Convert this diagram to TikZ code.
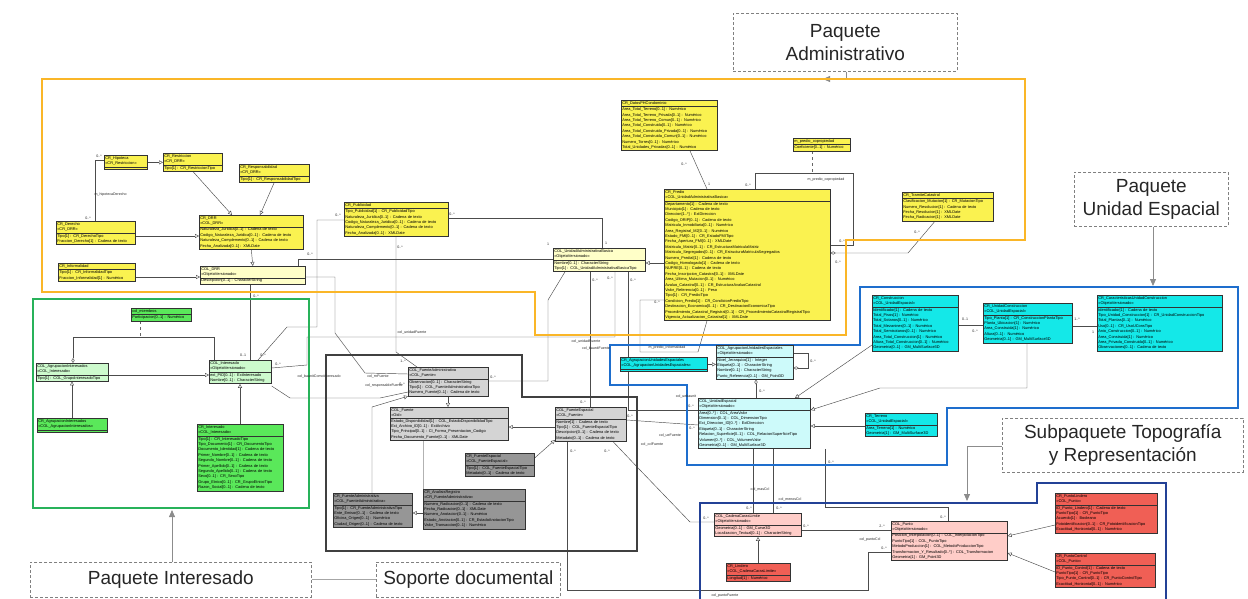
\documentclass[tikz,border=0pt]{standalone}
\usepackage{fontspec}
\setmainfont{Liberation Sans}
\usetikzlibrary{arrows.meta,shapes.multipart}
\pgfdeclarelayer{bg}
\pgfsetlayers{bg,main}

\definecolor{admY}{RGB}{250,242,80}
\definecolor{admL}{RGB}{255,255,200}
\definecolor{intG}{RGB}{90,232,90}
\definecolor{intL}{RGB}{205,250,205}
\definecolor{srcG}{RGB}{150,150,150}
\definecolor{srcL}{RGB}{212,212,212}
\definecolor{ueC}{RGB}{20,232,232}
\definecolor{ueL}{RGB}{205,250,250}
\definecolor{topR}{RGB}{240,95,85}
\definecolor{topL}{RGB}{255,205,200}
\definecolor{pkgOrange}{RGB}{250,182,40}
\definecolor{pkgBlue}{RGB}{30,110,205}
\definecolor{pkgNavy}{RGB}{35,65,150}
\definecolor{pkgGreen}{RGB}{40,178,90}

\begin{document}
\begin{tikzpicture}[
    x=1pt, y=-1pt,
    cls/.style={
        rectangle split,
        rectangle split parts=2,
        draw=black!80,
        line width=0.45pt,
        anchor=north west,
        align=left,
        inner sep=1.1pt,
        font=\fontsize{3.9}{5.4}\selectfont
    },
    crY/.style={cls, fill=admY},
    colY/.style={cls, fill=admL},
    crG/.style={cls, fill=intG},
    colG/.style={cls, fill=intL},
    crS/.style={cls, fill=srcG},
    colS/.style={cls, fill=srcL},
    crC/.style={cls, fill=ueC},
    colC/.style={cls, fill=ueL},
    crR/.style={cls, fill=topR},
    colR/.style={cls, fill=topL},
    pkg/.style={line width=2.3pt, line join=miter},
    note/.style={
        draw=black!50,
        dash pattern=on 3pt off 2pt,
        line width=0.6pt,
        anchor=north west,
        align=center,
        text=black!85,
        font=\fontsize{19}{23}\selectfont
    },
    assoc/.style={draw=black!70, line width=0.45pt},
    gen/.style={assoc, -{Triangle[open, length=4pt, width=4pt]}},
    agg/.style={assoc, {Diamond[open, length=5pt, width=3.2pt]}-},
    link/.style={draw=black!60, line width=0.45pt, dashed},
    pointer/.style={draw=black!45, line width=0.8pt, -{Triangle[length=7pt, width=6pt]}},
    mult/.style={font=\fontsize{3.6}{4}\selectfont, inner sep=0.3pt, text=black!85}
]
\useasboundingbox (0,0) rectangle (1248,599);

% package frames
\draw[pkg, pkgOrange] (42,79) -- (1025,79) -- (1025,240) -- (846,240) -- (846,335) -- (535,335) -- (535,292) -- (42,292) -- cycle;
\draw[pkg, pkgBlue] (860,287) -- (1238,287) -- (1238,408) -- (947,408) -- (947,465) -- (687,465) -- (687,385) -- (610,385) -- (610,345) -- (860,345) -- cycle;
\draw[pkg, pkgNavy] (700,602) -- (700,503) -- (1037,503) -- (1037,483) -- (1166,483) -- (1166,602);
\draw[pkg, pkgGreen] (33,299) rectangle (309,508);
\draw[pkg, black!75] (326,355) -- (522,355) -- (522,397) -- (637,397) -- (637,551) -- (326,551) -- cycle;

% package notes
\node[note, minimum width=224pt, minimum height=58pt] (admnote) at (733,13) {Paquete\\Administrativo};
\node[note, minimum width=154pt, minimum height=54pt] (uenote) at (1074,172) {Paquete\\Unidad Espacial};
\node[note, minimum width=241pt, minimum height=54pt] (topnote) at (1002,418) {Subpaquete Topografía\\y Representación};
\node[note, minimum width=281pt, minimum height=35pt] (intnote) at (30,562) {Paquete Interesado};
\node[note, minimum width=184pt, minimum height=35pt] (srcnote) at (376,562) {Soporte documental};

% administrative classes
\node[crY, text width=41pt] (hipoteca) at (104,155) {CR\_Hipoteca\\<<CR\_Restriccion>> \nodepart{two}};
\node[crY, text width=57pt] (restriccion) at (163,153) {CR\_Restriccion\\<<CR\_DRR>> \nodepart{two} Tipo[1] : CR\_RestriccionTipo};
\node[crY, text width=68pt] (responsabilidad) at (239,164) {CR\_Responsabilidad\\<<CR\_DRR>> \nodepart{two} Tipo[1] : CR\_ResponsabilidadTipo};
\node[crY, text width=77pt] (derecho) at (56,221) {CR\_Derecho\\<<CR\_DRR>> \nodepart{two} Tipo[1] : CR\_DerechoTipo\\Fraccion\_Derecho[1] : Cadena de texto};
\node[crY, text width=102pt] (crdrr) at (199,215) {CR\_DRR\\<<COL\_DRR>> \nodepart{two} Naturaleza\_Juridica[0..1] : Cadena de texto\\Codigo\_Naturaleza\_Juridica[0..1] : Cadena de texto\\Naturaleza\_Complemento[0..1] : Cadena de texto\\Fecha\_Analizada[0..1] : XMLDate};
\node[crY, text width=75pt] (informalidad) at (58,263) {CR\_Informalidad \nodepart{two} Tipo[1] : CR\_InformalidadTipo\\Fraccion\_Informalidad[1] : Numérico};
\node[colY, text width=103pt] (coldrr) at (200,266) {COL\_DRR\\<<ObjetoVersionado>> \nodepart{two} Descripcion[0..1] : CharacterString};
\node[crY, text width=102pt] (publicidad) at (344,202) {CR\_Publicidad \nodepart{two} Tipo\_Publicidad[1] : CR\_PublicidadTipo\\Naturaleza\_Juridica[0..1] : Cadena de texto\\Codigo\_Naturaleza\_Juridica[0..1] : Cadena de texto\\Naturaleza\_Complemento[0..1] : Cadena de texto\\Fecha\_Analizada[0..1] : XMLDate};
\node[colY, text width=90pt] (colbaunit) at (553,248) {COL\_UnidadAdministrativaBasica\\<<ObjetoVersionado>> \nodepart{two} Nombre[0..1] : CharacterString\\Tipo[1] : COL\_UnidadAdministrativaBasicaTipo};
\node[crY, text width=94pt] (datosph) at (621,100) {CR\_DatosPHCondominio \nodepart{two} Area\_Total\_Terreno[0..1] : Numérico\\Area\_Total\_Terreno\_Privada[0..1] : Numérico\\Area\_Total\_Terreno\_Comun[0..1] : Numérico\\Area\_Total\_Construida[0..1] : Numérico\\Area\_Total\_Construida\_Privada[0..1] : Numérico\\Area\_Total\_Construida\_Comun[0..1] : Numérico\\Numero\_Torres[0..1] : Numérico\\Total\_Unidades\_Privadas[0..1] : Numérico};
\node[crY, text width=55pt] (copropiedad) at (793,138) {m\_predio\_copropiedad \nodepart{two} Coeficiente[0..1] : Numérico};
\node[crY, text width=164pt] (predio) at (664,189) {CR\_Predio\\<<COL\_UnidadAdministrativaBasica>> \nodepart{two} Departamento[1] : Cadena de texto\\Municipio[1] : Cadena de texto\\Direccion[1..*] : ExtDireccion\\Codigo\_ORIP[0..1] : Cadena de texto\\Matricula\_Inmobiliaria[0..1] : Numérico\\Area\_Registral\_M2[0..1] : Numérico\\Estado\_FMI[0..1] : CR\_EstadoFMITipo\\Fecha\_Apertura\_FMI[0..1] : XMLDate\\Matricula\_Matriz[0..1] : CR\_EstructuraMatriculaMatriz\\Matricula\_Segregados[0..1] : CR\_EstructuraMatriculaSegregados\\Numero\_Predial[1] : Cadena de texto\\Codigo\_Homologado[1] : Cadena de texto\\NUPRE[0..1] : Cadena de texto\\Fecha\_Inscripcion\_Catastral[0..1] : XMLDate\\Area\_Ultima\_Mutacion[0..1] : Numérico\\Avaluo\_Catastral[0..1] : CR\_EstructuraAvaluoCatastral\\Valor\_Referencia[0..1] : Peso\\Tipo[1] : CR\_PredioTipo\\Condicion\_Predio[1] : CR\_CondicionPredioTipo\\Destinacion\_Economica[0..1] : CR\_DestinacionEconomicaTipo\\Procedimiento\_Catastral\_Registral[0..1] : CR\_ProcedimientoCatastralRegistralTipo\\Vigencia\_Actualizacion\_Catastral[1] : XMLDate};
\node[crY, text width=89pt] (tramite) at (902,192) {CR\_TramiteCatastral \nodepart{two} Clasificacion\_Mutacion[1] : CR\_MutacionTipo\\Numero\_Resolucion[1] : Cadena de texto\\Fecha\_Resolucion[1] : XMLDate\\Fecha\_Radicacion[1] : XMLDate};

% party classes
\node[crG, text width=58pt] (miembros) at (131,308) {col\_miembros \nodepart{two} Participacion[0..1] : Numérico};
\node[colG, text width=70pt] (colagrupint) at (36,363) {COL\_AgrupacionInteresados\\<<COL\_Interesado>> \nodepart{two} Tipo[1] : COL\_GrupoInteresadoTipo};
\node[colG, text width=60pt] (colint) at (209,360) {COL\_Interesado\\<<ObjetoVersionado>> \nodepart{two} ext\_PID[0..1] : ExtInteresado\\Nombre[0..1] : CharacterString};
\node[crG, text width=68pt] (cragrupint) at (37,418) {CR\_AgrupacionInteresados\\<<COL\_AgrupacionInteresados>> \nodepart{two}};
\node[crG, text width=84pt] (crint) at (197,424) {CR\_Interesado\\<<COL\_Interesado>> \nodepart{two} Tipo[1] : CR\_InteresadoTipo\\Tipo\_Documento[1] : CR\_DocumentoTipo\\Documento\_Identidad[1] : Cadena de texto\\Primer\_Nombre[0..1] : Cadena de texto\\Segundo\_Nombre[0..1] : Cadena de texto\\Primer\_Apellido[0..1] : Cadena de texto\\Segundo\_Apellido[0..1] : Cadena de texto\\Sexo[0..1] : CR\_SexoTipo\\Grupo\_Etnico[0..1] : CR\_GrupoEtnicoTipo\\Razon\_Social[0..1] : Cadena de texto};

% source classes
\node[colS, text width=78pt] (colfa) at (408,367) {COL\_FuenteAdministrativa\\<<COL\_Fuente>> \nodepart{two} Observacion[0..1] : CharacterString\\Tipo[1] : COL\_FuenteAdministrativaTipo\\Numero\_Fuente[0..1] : Cadena de texto};
\node[colS, text width=116pt] (colfuente) at (390,407) {COL\_Fuente\\<<Oid>> \nodepart{two} Estado\_Disponibilidad[1] : COL\_EstadoDisponibilidadTipo\\Ext\_Archivo\_ID[0..1] : ExtArchivo\\Tipo\_Principal[0..1] : CI\_Forma\_Presentacion\_Codigo\\Fecha\_Documento\_Fuente[0..1] : XMLDate};
\node[colS, text width=69pt] (cfe) at (555,407) {COL\_FuenteEspacial\\<<COL\_Fuente>> \nodepart{two} Nombre[1] : Cadena de texto\\Tipo[1] : COL\_FuenteEspacialTipo\\Descripcion[0..1] : Cadena de texto\\Metadato[0..1] : Cadena de texto};
\node[crS, text width=67pt] (crfe) at (465,453) {CR\_FuenteEspacial\\<<COL\_FuenteEspacial>> \nodepart{two} Tipo[1] : COL\_FuenteEspacialTipo\\Metadato[0..1] : Cadena de texto};
\node[crS, text width=77pt] (crfa) at (333,493) {CR\_FuenteAdministrativa\\<<COL\_FuenteAdministrativa>> \nodepart{two} Tipo[1] : CR\_FuenteAdministrativaTipo\\Ente\_Emisor[0..1] : Cadena de texto\\Oficina\_Origen[0..1] : Numérico\\Ciudad\_Origen[0..1] : Cadena de texto};
\node[crS, text width=100pt] (analisis) at (423,489) {CR\_AnalisisRegistro\\<<CR\_FuenteAdministrativa>> \nodepart{two} Numero\_Radicacion[0..1] : Cadena de texto\\Fecha\_Radicacion[0..1] : XMLDate\\Numero\_Anotacion[0..1] : Numérico\\Estado\_Anotacion[0..1] : CR\_EstadoAnotacionTipo\\Valor\_Transaccion[0..1] : Numérico};

% spatial unit classes
\node[crC, text width=85pt] (cragrupue) at (620,357) {CR\_AgrupacionUnidadesEspaciales\\<<COL\_AgrupacionUnidadesEspaciales>> \nodepart{two}};
\node[colC, text width=75pt] (colagrupue) at (716,345) {COL\_AgrupacionUnidadesEspaciales\\<<ObjetoVersionado>> \nodepart{two} Nivel\_Jerarquico[1] : Integer\\Etiqueta[0..1] : CharacterString\\Nombre[0..1] : CharacterString\\Punto\_Referencia[0..1] : GM\_Point3D};
\node[colC, text width=110pt] (colue) at (698,398) {COL\_UnidadEspacial\\<<ObjetoVersionado>> \nodepart{two} Area[0..*] : COL\_AreaValor\\Dimension[0..1] : COL\_DimensionTipo\\Ext\_Direccion\_ID[0..*] : ExtDireccion\\Etiqueta[0..1] : CharacterString\\Relacion\_Superficie[0..1] : COL\_RelacionSuperficieTipo\\Volumen[0..*] : COL\_VolumenValor\\Geometria[0..1] : GM\_MultiSurface3D};
\node[crC, text width=70pt] (terreno) at (865,413) {CR\_Terreno\\<<COL\_UnidadEspacial>> \nodepart{two} Area\_Terreno[1] : Numérico\\Geometria[1] : GM\_MultiSurface3D};
\node[crC, text width=84pt] (construccion) at (872,295) {CR\_Construccion\\<<COL\_UnidadEspacial>> \nodepart{two} Identificador[1] : Cadena de texto\\Total\_Pisos[1] : Numérico\\Total\_Sotanos[0..1] : Numérico\\Total\_Mezanines[0..1] : Numérico\\Total\_Semisotanos[0..1] : Numérico\\Area\_Total\_Construccion[1] : Numérico\\Altura\_Total\_Construccion[0..1] : Numérico\\Geometria[0..1] : GM\_MultiSurface3D};
\node[crC, text width=87pt] (unidadcons) at (983,303) {CR\_UnidadConstruccion\\<<COL\_UnidadEspacial>> \nodepart{two} Tipo\_Planta[1] : CR\_ConstruccionPlantaTipo\\Planta\_Ubicacion[1] : Numérico\\Area\_Construida[1] : Numérico\\Altura[0..1] : Numérico\\Geometria[0..1] : GM\_MultiSurface3D};
\node[crC, text width=123pt] (caract) at (1097,295) {CR\_CaracteristicasUnidadConstruccion\\<<ObjetoVersionado>> \nodepart{two} Identificador[1] : Cadena de texto\\Tipo\_Unidad\_Construccion[1] : CR\_UnidadConstruccionTipo\\Total\_Plantas[0..1] : Numérico\\Uso[0..1] : CR\_UsoUConsTipo\\Anio\_Construccion[0..1] : Numérico\\Area\_Construida[1] : Numérico\\Area\_Privada\_Construida[0..1] : Numérico\\Observaciones[0..1] : Cadena de texto};

% topography classes
\node[colR, text width=85pt] (colccl) at (714,513) {COL\_CadenaCarasLimite\\<<ObjetoVersionado>> \nodepart{two} Geometria[0..1] : GM\_Curve3D\\Localizacion\_Textual[0..1] : CharacterString};
\node[crR, text width=62pt] (lindero) at (726,563) {CR\_Lindero\\<<COL\_CadenaCarasLimite>> \nodepart{two} Longitud[1] : Numérico};
\node[colR, text width=114pt] (colpunto) at (891,521) {COL\_Punto\\<<ObjetoVersionado>> \nodepart{two} Posicion\_Interpolacion[0..1] : COL\_InterpolacionTipo\\PuntoTipo[1] : COL\_PuntoTipo\\MetodoProduccion[1] : COL\_MetodoProduccionTipo\\Transformacion\_Y\_Resultado[0..*] : COL\_Transformacion\\Geometria[1] : GM\_Point3D};
\node[crR, text width=100pt] (puntolindero) at (1055,493) {CR\_PuntoLindero\\<<COL\_Punto>> \nodepart{two} ID\_Punto\_Lindero[1] : Cadena de texto\\PuntoTipo[1] : CR\_PuntoTipo\\Acuerdo[1] : Booleano\\Fotoidentificacion[0..1] : CR\_FotoidentificacionTipo\\Exactitud\_Horizontal[0..1] : Numérico};
\node[crR, text width=98pt] (puntocontrol) at (1055,553) {CR\_PuntoControl\\<<COL\_Punto>> \nodepart{two} ID\_Punto\_Control[1] : Cadena de texto\\PuntoTipo[1] : CR\_PuntoTipo\\Tipo\_Punto\_Control[0..1] : CR\_PuntoControlTipo\\Exactitud\_Horizontal[0..1] : Numérico};

% multiplicities and role names
\node[mult] (m1) at (99,156) {0..*};
\node[mult] (m2) at (88,218) {0..*};
\node[mult, anchor=west] (m3) at (94,195) {m\_hipotecaDerecho};
\node[mult] (m4) at (310,254) {0..*};
\node[mult] (m5) at (548,244) {1};
\node[mult] (m6) at (338,215) {0..*};
\node[mult] (m7) at (452,214) {0..*};
\node[mult] (m8) at (606,243) {1};
\node[mult] (m9) at (400,247) {0..*};
\node[mult] (m10) at (403,361) {1..*};
\node[mult] (m11) at (256,296) {0..*};
\node[mult] (m12) at (243,355) {0..1};
\node[mult] (m13) at (263,355) {0..*};
\node[mult] (m14) at (684,164) {0..*};
\node[mult] (m15) at (709,184) {1};
\node[mult] (m16) at (748,185) {0..*};
\node[mult] (m17) at (842,241) {0..*};
\node[mult] (m18) at (826,180) {m\_predio\_copropiedad};
\node[mult] (m19) at (917,232) {0..*};
\node[mult] (m20) at (838,262) {0..*};
\node[mult] (m21) at (657,302) {0..*};
\node[mult] (m22) at (667,348) {m\_predio\_informalidad};
\node[mult] (m23) at (610,278) {0..*};
\node[mult] (m24) at (278,364) {0..*};
\node[mult, anchor=west] (m25) at (297,377) {col\_baunitComoInteresado};
\node[mult] (m26) at (378,377) {col\_rrrFuente};
\node[mult] (m27) at (384,386) {col\_responsableFuente};
\node[mult] (m28) at (493,377) {0..*};
\node[mult] (m29) at (412,333) {col\_unidadFuente};
\node[mult] (m30) at (586,342) {col\_unidadFuente};
\node[mult] (m31) at (596,349) {col\_baunitFuente};
\node[mult] (m32) at (595,280) {0..*};
\node[mult] (m33) at (583,402) {0..*};
\node[mult] (m34) at (633,280) {0..*};
\node[mult] (m35) at (691,406) {0..*};
\node[mult] (m36) at (686,397) {col\_uebaunit};
\node[mult] (m37) at (630,416) {0..*};
\node[mult] (m38) at (692,428) {0..*};
\node[mult] (m39) at (670,436) {col\_ueFuente};
\node[mult] (m40) at (607,451) {0..*};
\node[mult] (m41) at (652,445) {col\_cclFuente};
\node[mult] (m42) at (706,518) {0..*};
\node[mult] (m43) at (573,451) {0..*};
\node[mult] (m44) at (884,548) {0..*};
\node[mult] (m45) at (725,596) {col\_puntoFuente};
\node[mult] (m46) at (870,540) {col\_puntoCcl};
\node[mult] (m47) at (813,361) {0..*};
\node[mult] (m48) at (762,391) {0..*};
\node[mult] (m49) at (965,319) {0..1};
\node[mult] (m50) at (975,331) {0..*};
\node[mult] (m51) at (1077,319) {1..*};
\node[mult] (m52) at (1093,332) {1};
\node[mult] (m53) at (749,508) {0..*};
\node[mult] (m54) at (779,508) {0..*};
\node[mult] (m55) at (760,490) {col\_masCcl};
\node[mult] (m56) at (790,500) {col\_menosCcl};
\node[mult] (m57) at (831,462) {0..*};
\node[mult] (m58) at (943,517) {0..*};
\node[mult] (m59) at (806,526) {0..*};
\node[mult] (m60) at (882,526) {2..*};
\node[mult] (m61) at (402,384) {0..*};

\begin{pgfonlayer}{bg}
% administrative
\draw[gen] (hipoteca.east) -- (restriccion.west |- hipoteca.east);
\draw[gen] (restriccion.south) -- (crdrr.north -| 232,0);
\draw[gen] (responsabilidad.south) -- (crdrr.north -| 260,0);
\draw[gen] (derecho.east |- 0,236) -- (crdrr.west |- 0,236);
\draw[assoc] (hipoteca.west |- 0,160) -- (95,160) -- (derecho.north -| 95,0);
\draw[gen] (crdrr.south) -- (coldrr.north);
\draw[gen] (informalidad.east |- 0,277) -- (coldrr.west |- 0,277);
\draw[assoc] (coldrr.north -| 298,0) |- (colbaunit.west |- 0,259);
\draw[assoc] (publicidad.west |- 0,220) -- (317,220) -- (317,327) -- (287,327) -- (colint.north -| 258,0);
\draw[assoc] (publicidad.east |- 0,218) -- (602,218) -- (colbaunit.north -| 602,0);
\draw[assoc] (publicidad.south -| 396,0) -- (396,352) -- (colfa.north -| 417,0);
\draw[assoc] (coldrr.south -| 250,0) -- (colint.north -| 250,0);
\draw[assoc] (datosph.south -| 690,0) -- (predio.north -| 707,0);
\draw[assoc] (predio.north -| 755,0) |- (853,173) |- (predio.east |- 0,245);
\draw[link] (copropiedad.south -| 812,0) -- (812,173);
\draw[agg] (predio.east |- 0,253) -- (908,253) -- (tramite.south -| 935,0);
\draw[gen] (predio.west |- 0,263) -- (colbaunit.east |- 0,263);
\draw[assoc] (predio.south -| 707,0) -- (698,352) -- (640,352) -- (640,300) -- (predio.west |- 0,300);
% party
\draw[agg] (colagrupint.north -| 73,0) |- (214,337) -- (colint.north -| 214,0);
\draw[link] (miembros.south -| 140,0) -- (140,337);
\draw[gen] (cragrupint.north -| 72,0) -- (colagrupint.south -| 72,0);
\draw[gen] (colagrupint.east |- 0,375) -- (colint.west |- 0,375);
\draw[gen] (crint.north -| 240,0) -- (colint.south -| 240,0);
% across packages
\draw[assoc] (colbaunit.south -| 615,0) -- (615,337) -- (307,337) -- (307,365) -- (colint.east |- 0,368);
\draw[assoc] (coldrr.east |- 0,277) -- (335,277) -- (335,333) -- (365,373) -- (colfa.west |- 0,374);
\draw[assoc] (colint.east |- 0,386) -- (290,398) -- (380,398) -- (colfa.west |- 0,392);
\draw[assoc] (colfa.east |- 0,381) -- (548,381) -- (548,300) -- (colbaunit.south -| 565,0);
\draw[assoc] (colbaunit.south -| 590,0) -- (cfe.north -| 590,0);
\draw[assoc] (colbaunit.south -| 628,0) -- (628,410) -- (colue.west |- 0,410);
\draw[assoc] (cfe.east |- 0,420) -- (colue.west |- 0,425);
\draw[assoc] (cfe.south -| 613,0) -- (640,470) -- (690,522) -- (colccl.west |- 0,522);
\draw[assoc] (cfe.south -| 567,0) -- (567,590) -- (868,590) -- (868,552) -- (colpunto.west |- 0,552);
% source
\draw[gen] (colfa.south -| 448,0) -- (colfuente.north -| 448,0);
\draw[gen] (cfe.west |- 0,427) -- (colfuente.east |- 0,427);
\draw[gen] (crfe.east |- 0,458) -- (cfe.west |- 0,440);
\draw[gen] (crfa.north -| 372,0) -- (372,407) -- (colfa.south west);
\draw[gen] (analisis.west |- 0,513) -- (crfa.east |- 0,513);
\draw[black!30, line width=0.45pt] (colfuente.south -| 423,0) -- (analisis.north -| 423,0);
% spatial unit
\draw[gen] (cragrupue.east) -- (colagrupue.west |- cragrupue.east);
\draw[agg] (colagrupue.east |- 0,368) -- (808,368) -- (808,353) -- (colagrupue.east |- 0,353);
\draw[agg] (colagrupue.south -| 756,0) -- (colue.north -| 756,0);
\draw[gen] (construccion.west |- 0,345) -- (colue.north -| 795,0);
\draw[gen] (unidadcons.south -| 1027,0) -- (1027,388) -- (880,388) -- (colue.east |- 0,410);
\draw[gen] (terreno.west |- 0,426) -- (colue.east |- 0,426);
\draw[assoc] (construccion.east |- 0,325) -- (unidadcons.west |- 0,325);
\draw[assoc] (unidadcons.east |- 0,326) -- (caract.west |- 0,326);
% topography
\draw[assoc] (colue.south -| 753,0) -- (colccl.north -| 753,0);
\draw[assoc] (colue.south -| 773,0) -- (colccl.north -| 773,0);
\draw[assoc] (colue.south -| 825,0) -- (825,507) -- (948,507) -- (colpunto.north -| 948,0);
\draw[assoc] (colccl.east |- 0,530) -- (colpunto.west |- 0,530);
\draw[gen] (lindero.north -| 758,0) -- (colccl.south -| 758,0);
\draw[gen] (puntolindero.west |- 0,525) -- (colpunto.east |- 0,536);
\draw[gen] (puntocontrol.west |- 0,572) -- (colpunto.east |- 0,553);
% note pointers
\draw[pointer] (admnote.south -| 846,0) -- (846,79) -- (823,79);
\draw[pointer] (uenote.south -| 1153,0) -- (1153,286);
\draw[pointer] (topnote.west |- 0,446) -- (967,446) -- (967,501);
\draw[pointer] (intnote.north -| 172,0) -- (172,510);
\draw[draw=black!35, line width=0.8pt] (intnote.east) -- (srcnote.west);
\end{pgfonlayer}
\end{tikzpicture}
\end{document}
